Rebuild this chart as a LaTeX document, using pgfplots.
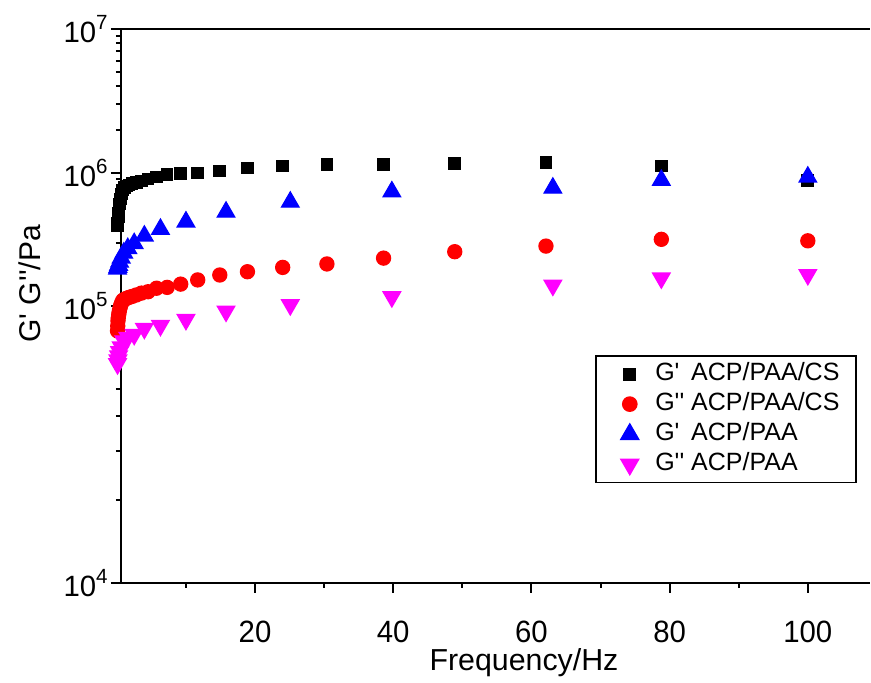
\documentclass[border=0pt]{standalone}
\usepackage{fontspec}
\setmainfont{Liberation Sans}
\usepackage{pgfplots}
\pgfplotsset{compat=1.18}

\definecolor{gmag}{RGB}{255,0,255}
\newcommand\q{\textquotesingle}

% the original y axis is not a clean log scale: 1e4-1e5 is drawn about
% twice as tall as the decades above it, so map log10(y) piecewise
\newcommand\gtrafo[1]{%
  \begingroup
  \pgfkeys{/pgf/fpu=true,/pgf/fpu/output format=fixed}%
  \pgfmathparse{ln(#1)/ln(10)}%
  \let\gLog\pgfmathresult
  \pgfmathparse{\gLog<5 ? (\gLog-4)*277 : (\gLog<6 ? 277+(\gLog-5)*133 : 410+(\gLog-6)*144)}%
  \xdef\gtrafoout{\pgfmathresult}%
  \endgroup
  \let\pgfmathresult\gtrafoout}

\begin{document}
\begin{tikzpicture}
\begin{axis}[
    scale only axis,
    width=224.7pt, height=166.2pt,
    xmin=0.6, xmax=109,
    y coord trafo/.code={\gtrafo{#1}},
    ymin=1e4, ymax=1e7,
    ytick={1e4,1e5,1e6,1e7},
    yticklabels={10\textsuperscript{4},10\textsuperscript{5},10\textsuperscript{6},10\textsuperscript{7}},
    minor ytick={2e4,3e4,4e4,5e4,6e4,7e4,8e4,9e4,2e5,3e5,4e5,5e5,6e5,7e5,8e5,9e5,2e6,3e6,4e6,5e6,6e6,7e6,8e6,9e6},
    xtick={20,40,60,80,100},
    minor xtick={10,30,50,70,90},
    axis x line*=bottom, axis y line*=left,
    axis line style={line width=0.6pt},
    tick style={line width=0.6pt, black},
    tick align=outside,
    major tick length=3pt, minor tick length=1.5pt,
    clip=false,
    /pgf/number format/assume math mode=true,
    tick label style={font=\fontsize{8.8}{10}\selectfont},
    xticklabel style={yshift=-4.8pt, yscale=1.05},
    yticklabel style={xshift=3pt},
    xlabel={Frequency/Hz},
    ylabel={G\q{} G\q\q/Pa},
    xlabel style={font=\fontsize{9.1}{11}\selectfont, at={(axis description cs:0.538,0)},
      anchor=north, yshift=-16.2pt},
    ylabel style={font=\fontsize{9}{11}\selectfont, at={(ticklabel cs:0.54)}},
    legend style={at={(0.633,0.4116)}, anchor=north west, draw=black, line width=0.5pt,
      font=\fontsize{7.5}{8.8}\selectfont, row sep=-1.9pt, inner ysep=0pt},
    legend cell align=left,
    legend image code/.code={%
      \path (-6.9pt,0pt) (5.4pt,0pt);
      \draw[#1] plot coordinates {(0pt,0pt)};},
    every mark/.append style={line width=0.2pt},
  ]

  \addplot[only marks, mark=square*, mark size=1.7pt, color=black] coordinates {
    (0.100,4.00e5)(0.127,4.21e5)(0.161,4.43e5)(0.204,4.67e5)(0.259,5.00e5)
    (0.329,5.36e5)(0.417,5.85e5)(0.530,6.38e5)(0.672,6.95e5)(0.853,7.44e5)
    (1.08,7.80e5)(1.37,7.98e5)(1.74,8.13e5)(2.21,8.31e5)(2.81,8.51e5)
    (3.56,8.71e5)(4.52,9.02e5)(5.74,9.33e5)(7.28,9.70e5)(9.24,9.90e5)
    (11.7,1.00e6)(14.9,1.03e6)(18.9,1.08e6)(24.0,1.12e6)(30.4,1.14e6)
    (38.6,1.15e6)(48.9,1.17e6)(62.1,1.18e6)(78.8,1.12e6)(100,8.83e5)
  };
  \addlegendentry{G\q\phantom{\q} ACP/PAA/CS}

  \addplot[only marks, mark=*, mark size=2.1pt, color=red] coordinates {
    (0.100,8.13e4)(0.127,8.47e4)(0.161,8.84e4)(0.204,9.06e4)(0.259,9.28e4)
    (0.329,9.50e4)(0.417,9.75e4)(0.530,1.00e5)(0.672,1.05e5)(0.853,1.10e5)
    (1.08,1.12e5)(1.37,1.14e5)(1.74,1.16e5)(2.21,1.18e5)(2.81,1.21e5)
    (3.56,1.25e5)(4.52,1.28e5)(5.74,1.36e5)(7.28,1.38e5)(9.24,1.46e5)
    (11.7,1.57e5)(14.9,1.71e5)(18.9,1.81e5)(24.0,1.95e5)(30.4,2.07e5)
    (38.6,2.29e5)(48.9,2.56e5)(62.1,2.82e5)(78.8,3.17e5)(100,3.09e5)
  };
  \addlegendentry{G\q\q{} ACP/PAA/CS}

  \addplot[only marks, mark=triangle*, mark size=3pt, color=blue] coordinates {
    (0.100,1.90e5)(0.158,1.96e5)(0.251,2.03e5)(0.398,2.14e5)(0.631,2.30e5)
    (1.00,2.50e5)(1.58,2.71e5)(2.51,2.95e5)(3.98,3.36e5)(6.31,3.78e5)
    (10.0,4.29e5)(15.8,5.09e5)(25.1,6.05e5)(39.8,7.23e5)(63.1,7.71e5)
    (78.8,8.83e5)(100,9.33e5)
  };
  \addlegendentry{G\q\phantom{\q} ACP/PAA}

  \addplot[only marks, mark=triangle*, mark size=3pt, mark options={rotate=180}, color=gmag] coordinates {
    (0.100,6.18e4)(0.158,6.38e4)(0.251,6.60e4)(0.398,6.83e4)(0.631,7.11e4)
    (1.00,7.48e4)(1.58,7.70e4)(2.51,7.89e4)(3.98,8.30e4)(6.31,8.50e4)
    (10.0,8.93e4)(15.8,9.57e4)(25.1,1.02e5)(39.8,1.17e5)(63.1,1.43e5)
    (78.8,1.62e5)(100,1.72e5)
  };
  \addlegendentry{G\q\q{} ACP/PAA}

  \draw[line width=0.6pt] (rel axis cs:0,1) -- (rel axis cs:1,1);
\end{axis}
\pgfresetboundingbox
\useasboundingbox (-36.3pt,-29.9pt) rectangle (225pt,174.9pt);
\end{tikzpicture}
\end{document}
